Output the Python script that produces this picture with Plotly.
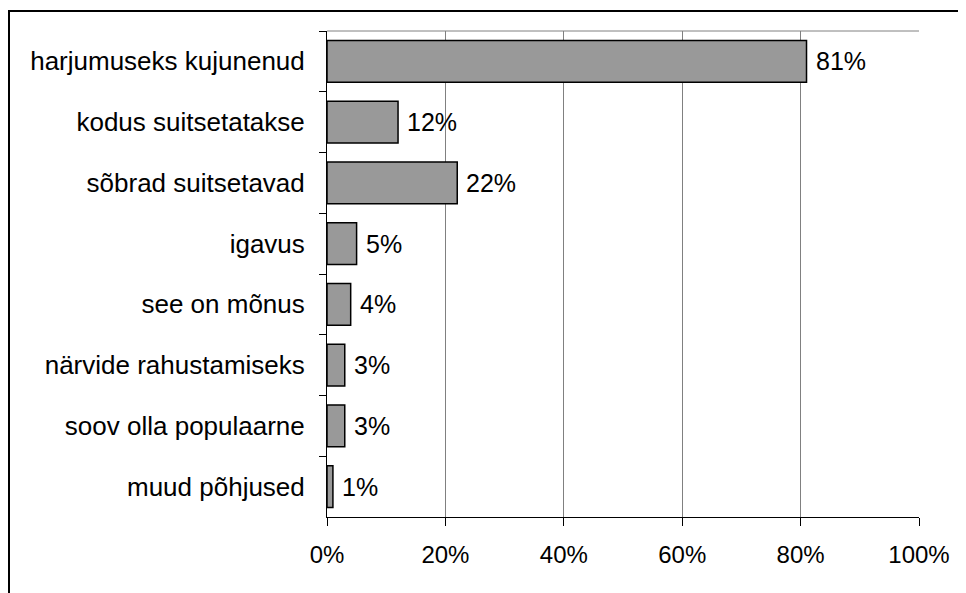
import plotly.graph_objects as go

categories = ["harjumuseks kujunenud", "kodus suitsetatakse", "sõbrad suitsetavad", "igavus",
              "see on mõnus", "närvide rahustamiseks", "soov olla populaarne", "muud põhjused"]
values = [81, 12, 22, 5, 4, 3, 3, 1]
x_ticks = [0, 20, 40, 60, 80, 100]
x_tick_labels = ["0%", "20%", "40%", "60%", "80%", "100%"]
value_labels = [f"{v}%" for v in values]

FONT = "Liberation Sans, Arial, sans-serif"

fig = go.Figure()
fig.add_trace(go.Bar(
    x=values, y=categories, orientation="h",
    marker=dict(color="#999999", line=dict(color="#000000", width=1.5)),
    hoverinfo="skip",
))

annotations = [
    dict(x=v, y=c, xref="x", yref="y", text=t, showarrow=False,
         xanchor="left", yanchor="middle", xshift=7,
         font=dict(family=FONT, size=25, color="#000000"))
    for v, c, t in zip(values, categories, value_labels)
]

# page body has an 8px margin; figure is sized to fit the window
W, H = 958, 585
L, R, T, B = 319, 47, 23, 76
pw, ph = W - L - R, H - T - B

def px_x(p):
    return (p - L) / pw

def px_y(p):
    return (H - B - p) / ph

shapes = [
    # top border of plot area
    dict(type="line", xref="x domain", yref="y domain", x0=0, x1=1, y0=1, y1=1,
         line=dict(color="#808080", width=1)),
    # outer frame (left and top)
    dict(type="line", xref="paper", yref="paper", x0=px_x(1), x1=px_x(1), y0=px_y(3), y1=px_y(600),
         line=dict(color="#000000", width=2)),
    dict(type="line", xref="paper", yref="paper", x0=px_x(0), x1=px_x(970), y0=px_y(3), y1=px_y(3),
         line=dict(color="#000000", width=2)),
]

fig.update_layout(
    width=W, height=H,
    margin=dict(l=L, r=R, t=T, b=B),
    paper_bgcolor="#ffffff", plot_bgcolor="#ffffff",
    showlegend=False,
    bargap=0.31,
    font=dict(family=FONT, size=24, color="#000000"),
    annotations=annotations,
    shapes=shapes,
    xaxis=dict(
        range=[0, 100], tickvals=x_ticks, ticktext=x_tick_labels,
        showgrid=True, gridcolor="#808080", gridwidth=1,
        showline=True, linecolor="#000000", linewidth=1,
        ticks="outside", ticklen=8, tickcolor="#000000", tickwidth=1,
        ticklabelstandoff=8, zeroline=False, fixedrange=True,
        tickfont=dict(family=FONT, size=24, color="#000000"),
    ),
    yaxis=dict(
        categoryorder="array", categoryarray=categories, autorange="reversed",
        showgrid=False, showline=True, linecolor="#000000", linewidth=1,
        ticks="outside", ticklen=7, tickcolor="#000000", tickwidth=1,
        tickson="boundaries", ticklabelstandoff=16, fixedrange=True,
        tickfont=dict(family=FONT, size=26, color="#000000"),
    ),
)

fig.write_html("out.html")
